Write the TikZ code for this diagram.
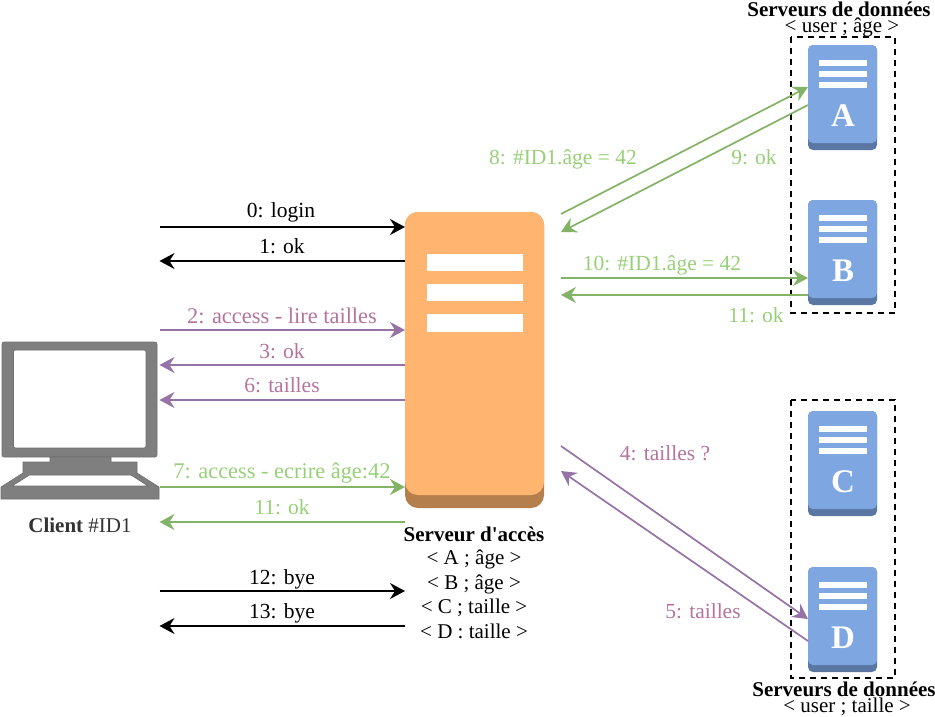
\documentclass[tikz,border=0pt]{standalone}
\usepackage{fontspec}
\setmainfont{Liberation Serif}[Ligatures=TeXOff]
\usetikzlibrary{arrows.meta}
\definecolor{grn}{HTML}{82B366}
\definecolor{pur}{HTML}{9673A6}
\definecolor{grntxt}{HTML}{97D077}
\definecolor{purtxt}{HTML}{B5739D}
\definecolor{blu}{HTML}{7EA6E0}
\definecolor{bludk}{HTML}{5A77A3}
\definecolor{org}{HTML}{FFB570}
\definecolor{orgdk}{HTML}{B57F4D}
\definecolor{mon}{HTML}{7F7F7F}
\definecolor{mondk}{HTML}{6E6E6E}
\tikzset{
  conn/.style={line width=1.7pt,-{Stealth[length=15pt,width=16pt,inset=5pt]}},
  blackconn/.style={conn,black},
  purconn/.style={conn,pur},
  grnconn/.style={conn,grn},
  lbl/.style={inner sep=0pt,font=\fontsize{21.5}{23}\selectfont},
  widelbl/.style={font=\fontsize{22.4}{24}\selectfont},
  blacklbl/.style={lbl,text=black},
  purlbl/.style={lbl,text=purtxt},
  grnlbl/.style={lbl,text=grntxt},
  boldlbl/.style={inner sep=0pt,font=\fontsize{21}{23}\selectfont\bfseries},
  smalllbl/.style={inner sep=0pt,font=\fontsize{21}{23}\selectfont},
  letterlbl/.style={inner sep=0pt,text=white,font=\fontsize{33}{35}\selectfont\bfseries},
  bar/.style={fill=white,draw=none},
  dbox/.style={draw=black,line width=1.5pt,dash pattern=on 6pt off 5pt},
  srv/.style={draw=none,inner sep=0pt,outer sep=0pt,fill=bludk,rounded corners=5pt,minimum width=69pt,minimum height=105pt},
}
\newcommand{\dataserver}[3]{% name, top y, letter
  \node[srv] (#1) at (842.5,#2+52.5) {};
  \fill[blu,rounded corners=5pt] (808,#2) rectangle (877,#2+98);
  \fill[bar] (819,#2+15) rectangle (867,#2+21);
  \fill[bar] (819,#2+26) rectangle (867,#2+32);
  \fill[bar] (819,#2+36.5) rectangle (867,#2+42.5);
  \node[letterlbl] at (843,#2+71) {#3};
}
\begin{document}
\begin{tikzpicture}[x=1pt,y=-1pt]
\useasboundingbox (0,0) rectangle (935,716);
% client monitor
\node[inner sep=0pt,outer sep=0pt,minimum width=159pt,minimum height=157pt] (client) at (80,420.5) {};
\filldraw[mon,draw=mondk,line width=0.6pt,even odd rule,rounded corners=2pt]
  (2,342) rectangle (157,457) (13.5,350) rectangle (146,448);
\filldraw[mon,draw=mondk,line width=0.6pt,even odd rule]
  (50,457) -- (111,457) -- (111,462) -- (137,462) -- (137,473) -- (159,487) -- (159,499) -- (1,499) -- (1,487) -- (23,473) -- (23,462) -- (50,462) -- cycle
  (29.5,475) -- (131,475) -- (148,486) -- (12,486) -- cycle;
\node[inner sep=0pt,text=black!80,font=\fontsize{21}{23}\selectfont] (clientlabel) at (80,525) {\textbf{Client} \#ID1};
% access server
\node[draw=none,fill=orgdk,inner sep=0pt,outer sep=0pt,rounded corners=13pt,minimum width=139pt,minimum height=296pt] (acces) at (474.5,360) {};
\fill[org,rounded corners=13pt] (405,212) rectangle (544,495);
\fill[bar] (427,254) rectangle (523,271);
\fill[bar] (427,284) rectangle (523,301);
\fill[bar] (427,314) rectangle (523,331.5);
\node[boldlbl] (acceslabel) at (474,534) {Serveur d'accès};
\node[smalllbl] (ta) at (474,559.5) {< A ; âge >};
\node[smalllbl] (tb) at (474,584.5) {< B ; âge >};
\node[smalllbl] (tc) at (474,608) {< C ; taille >};
\node[smalllbl] (td) at (474,631) {< D : taille >};
% data servers
\draw[dbox] (791,37) rectangle (895,313);
\draw[dbox] (791,400) rectangle (895,678);
\dataserver{A}{45}{A}
\dataserver{B}{200}{B}
\dataserver{C}{411}{C}
\dataserver{D}{567}{D}
\node[boldlbl] (t1) at (839,9) {Serveurs de données};
\node[smalllbl] (t2) at (842,27) {< user ; âge >};
\node[boldlbl] (t3) at (844,689) {Serveurs de données};
\node[smalllbl] (t4) at (847,707) {< user ; taille >};
% free ends beside the access server
\coordinate (e8) at (561,214);
\coordinate (e9) at (561,232);
\coordinate (e10) at (561,278);
\coordinate (e11) at (561,295);
\coordinate (e4) at (561,446);
\coordinate (e5) at (561,471);
% client <-> access
\draw[blackconn] (client.east |- 0,227) -- (acces.west |- 0,227);
\draw[blackconn] (acces.west |- 0,261) -- (client.east |- 0,261);
\draw[purconn] (client.east |- 0,330) -- (acces.west |- 0,330);
\draw[purconn] (acces.west |- 0,365) -- (client.east |- 0,365);
\draw[purconn] (acces.west |- 0,400) -- (client.east |- 0,400);
\draw[grnconn] (client.east |- 0,487) -- (acces.west |- 0,487);
\draw[grnconn] (acces.west |- 0,522) -- (client.east |- 0,522);
\draw[blackconn] (client.east |- 0,591) -- (acces.west |- 0,591);
\draw[blackconn] (acces.west |- 0,626) -- (client.east |- 0,626);
% access <-> data
\draw[grnconn] (e8) -- (A.west |- 0,87);
\draw[grnconn] (A.west |- 0,105) -- (e9);
\draw[grnconn] (e10) -- (B.west |- 0,278);
\draw[grnconn] (B.west |- 0,295) -- (e11);
\draw[purconn] (e4) -- (D.west |- 0,619);
\draw[purconn] (D.west |- 0,641) -- (e5);
% labels
\node[blacklbl] at (281,212.5) {0: login};
\node[blacklbl] at (282,246) {1: ok};
\node[purlbl,widelbl] at (282,316) {2: access - lire tailles};
\node[purlbl] at (282,351) {3: ok};
\node[purlbl] at (282,385) {6: tailles};
\node[grnlbl,widelbl] at (282,473.5) {7: access - ecrire âge:42};
\node[grnlbl] at (282,507) {11: ok};
\node[blacklbl] at (282,579) {12: bye};
\node[blacklbl] at (282,613) {13: bye};
\node[grnlbl] at (563,159) {8: \#ID1.âge = 42};
\node[grnlbl] at (754,157) {9: ok};
\node[grnlbl] at (662,265) {10: \#ID1.âge = 42};
\node[grnlbl] at (756,315) {11: ok};
\node[purlbl] at (665,453) {4: tailles ?};
\node[purlbl] at (703,611) {5: tailles};
\end{tikzpicture}
\end{document}
